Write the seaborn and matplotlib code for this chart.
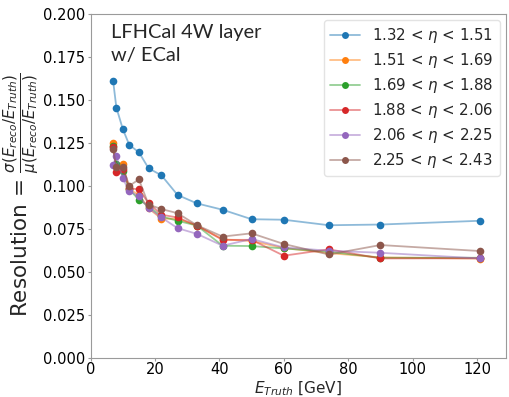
import matplotlib
matplotlib.use("Agg")
import matplotlib.pyplot as plt
import seaborn as sns
import pandas as pd
from matplotlib.colors import to_rgba

energies = [7, 8, 10, 12, 15, 18, 22, 27, 33, 41, 50, 60, 74, 90, 121]

bin_labels = [
    r"1.32 < $\eta$ < 1.51",
    r"1.51 < $\eta$ < 1.69",
    r"1.69 < $\eta$ < 1.88",
    r"1.88 < $\eta$ < 2.06",
    r"2.06 < $\eta$ < 2.25",
    r"2.25 < $\eta$ < 2.43",
]

res_132_151 = [0.161, 0.1456, 0.1331, 0.1239, 0.1196, 0.1103, 0.1062, 0.0948, 0.0899, 0.0862, 0.0807, 0.0804, 0.0772, 0.0776, 0.0798]
res_151_169 = [0.1247, 0.1120, 0.1130, 0.0980, 0.0950, 0.0870, 0.0810, 0.0810, 0.0770, 0.0690, 0.0680, 0.0640, 0.0610, 0.0585, 0.0578]
res_169_188 = [0.1233, 0.1126, 0.1087, 0.0980, 0.0921, 0.0882, 0.0823, 0.0798, 0.0770, 0.0653, 0.0651, 0.0637, 0.0618, 0.0583, 0.0583]
res_188_206 = [0.1227, 0.1083, 0.1100, 0.0987, 0.0980, 0.0901, 0.0833, 0.0817, 0.0770, 0.0687, 0.0687, 0.0595, 0.0632, 0.0579, 0.0580]
res_206_225 = [0.1122, 0.1175, 0.1044, 0.0970, 0.0940, 0.0872, 0.0817, 0.0755, 0.0722, 0.0653, 0.0692, 0.0643, 0.0624, 0.0612, 0.0579]
res_225_243 = [0.1214, 0.1110, 0.1110, 0.1001, 0.1038, 0.0892, 0.0866, 0.0842, 0.0772, 0.0706, 0.0725, 0.0663, 0.0602, 0.0657, 0.0622]

series = [res_132_151, res_151_169, res_169_188, res_188_206, res_206_225, res_225_243]

rows = []
for lab, vals in zip(bin_labels, series):
    for e, v in zip(energies, vals):
        rows.append({"E": e, "res": v, "bin": lab})
df = pd.DataFrame(rows)

sns.set_style("ticks")
plt.rcParams["axes.edgecolor"] = "#9a9a9a"
plt.rcParams["xtick.color"] = "#9a9a9a"
plt.rcParams["ytick.color"] = "#9a9a9a"
plt.rcParams["xtick.labelcolor"] = "black"
plt.rcParams["ytick.labelcolor"] = "black"
plt.rcParams["font.family"] = ["DejaVu Sans"]

palette = sns.color_palette("tab10", 6)

fig = plt.figure(figsize=(5.09, 3.97), dpi=100)
ax = fig.add_axes([0.178, 0.098, 0.816, 0.867])

sns.lineplot(data=df, x="E", y="res", hue="bin", hue_order=bin_labels,
             palette=palette, marker="o", markersize=5.5, markeredgewidth=0,
             linewidth=1.3, ax=ax, legend=True)

for line, col in zip(ax.get_lines(), palette):
    line.set_color(to_rgba(col, 0.5))
    line.set_markerfacecolor(col)
    line.set_markeredgecolor(col)

ax.set_xlim(0, 129)
ax.set_ylim(0, 0.2)
ax.set_yticks([0, 0.025, 0.05, 0.075, 0.1, 0.125, 0.15, 0.175, 0.2])
ax.set_yticklabels(["0.000", "0.025", "0.050", "0.075", "0.100", "0.125", "0.150", "0.175", "0.200"])
ax.set_xticks([0, 20, 40, 60, 80, 100, 120])
ax.tick_params(axis="y", labelsize=10.5, length=2.2, width=0.8, pad=1.8)
ax.tick_params(axis="x", labelsize=10.5, length=2.2, width=0.8, pad=0.8)

ax.set_xlabel(r"$E_{Truth}$ [GeV]", fontsize=11, labelpad=1.5)
ax.set_ylabel(r"Resolution = $\frac{\sigma(E_{reco}/E_{Truth})}{\mu(E_{reco}/E_{Truth})}$",
              fontsize=15.5)
ax.yaxis.set_label_coords(-0.118, 0.475)

ax.text(0.048, 0.972, "LFHCal 4W layer\nw/ ECal", transform=ax.transAxes,
        fontsize=14.4, family=["Lato", "DejaVu Sans"], va="top", ha="left",
        linespacing=1.45)

handles, labels = ax.get_legend_handles_labels()
for h, col in zip(handles, palette):
    h.set_color(to_rgba(col, 0.5))
    h.set_markerfacecolor(col)
    h.set_markeredgecolor(col)
    h.set_markersize(5)
ax.legend(handles, labels, loc="upper right", fontsize=10.8, frameon=True,
          framealpha=0.8, edgecolor="#dddddd", handlelength=2.0,
          borderaxespad=0.4, labelspacing=0.4)

fig.savefig("out.png", dpi=100)
